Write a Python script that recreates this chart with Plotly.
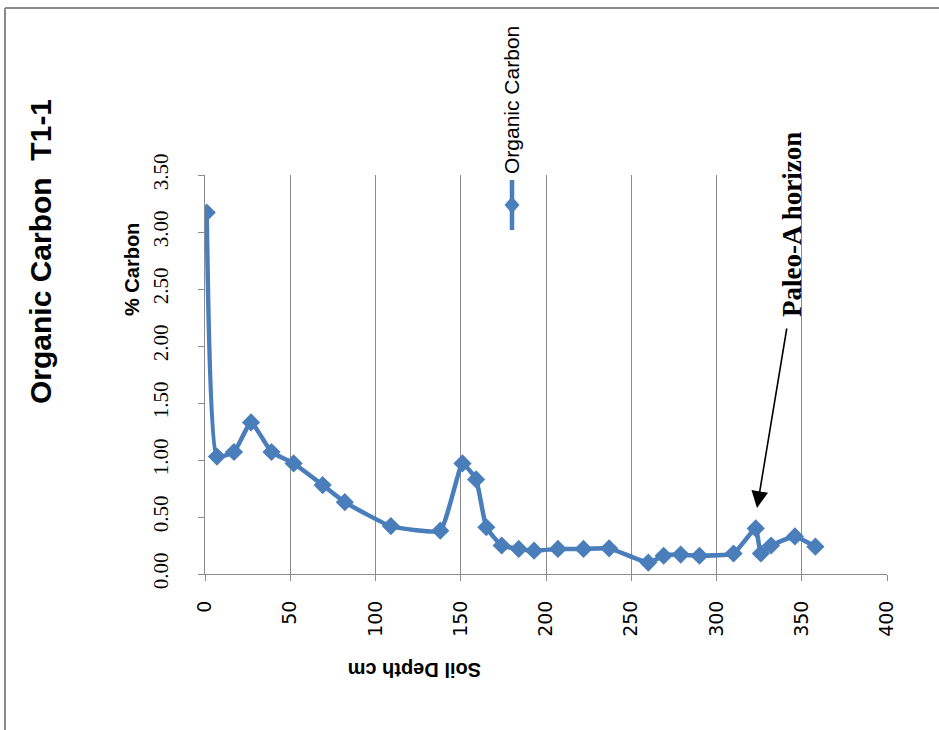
import plotly.graph_objects as go

# Data
depth_cm = [1, 7, 17, 27, 39, 52, 69, 82, 109, 138, 151, 159, 165, 174, 184, 193,
            207, 222, 237, 260, 269, 279, 290, 310, 323, 326, 332, 346, 358]
organic_carbon = [3.17, 1.03, 1.07, 1.33, 1.07, 0.97, 0.78, 0.63, 0.42, 0.38, 0.97,
                  0.83, 0.41, 0.25, 0.22, 0.205, 0.22, 0.22, 0.225, 0.10, 0.16, 0.17,
                  0.16, 0.18, 0.40, 0.18, 0.25, 0.33, 0.24]
x_ticks = [0, 50, 100, 150, 200, 250, 300, 350, 400]
y_ticks = [0.0, 0.5, 1.0, 1.5, 2.0, 2.5, 3.0, 3.5]
y_tick_text = ["%.2f" % v for v in y_ticks]

BLUE = "#4A7EBB"
GRID = "#8C8C8C"

W, H = 939, 730
L, R, T, B = 205, 52, 175, 156
PW, PH = W - L - R, H - T - B


def px(xp):
    return (xp - L) / PW


def py(yp):
    return (H - B - yp) / PH


fig = go.Figure()
fig.add_trace(go.Scatter(
    x=depth_cm, y=organic_carbon, mode="lines+markers", name="Organic Carbon",
    line=dict(color=BLUE, width=4.5, shape="spline", smoothing=0.4),
    marker=dict(symbol="diamond", size=14, color=BLUE),
    showlegend=False,
))

fig.update_layout(
    width=W, height=H,
    margin=dict(l=L, r=R, t=T, b=B),
    paper_bgcolor="white", plot_bgcolor="white",
    xaxis=dict(
        range=[0, 400], tickvals=x_ticks, ticktext=[str(v) for v in x_ticks],
        tickangle=-90, showgrid=True, gridcolor=GRID, gridwidth=1,
        showline=True, linecolor=GRID, linewidth=1,
        ticks="outside", ticklen=6, tickcolor=GRID,
        tickfont=dict(family="DejaVu Sans", size=19, color="black"),
        ticklabelstandoff=12, zeroline=False,
    ),
    yaxis=dict(
        range=[0, 3.5], tickvals=y_ticks, ticktext=y_tick_text,
        tickangle=-90, showgrid=False,
        showline=True, linecolor=GRID, linewidth=1,
        ticks="outside", ticklen=6, tickcolor=GRID,
        tickfont=dict(family="Liberation Serif", size=21, color="black"),
        ticklabelstandoff=22, zeroline=False,
    ),
)

ann = [
    dict(text="<b>Organic Carbon  T1-1</b>", x=px(40), y=py(252), textangle=-90,
         font=dict(family="Liberation Sans", size=30, color="black")),
    dict(text="<b>% Carbon</b>", x=px(132), y=py(270), textangle=-90,
         font=dict(family="Liberation Sans", size=20, color="black")),
    dict(text="<b>Soil Depth cm</b>", x=px(415), y=py(670), textangle=180,
         font=dict(family="Liberation Sans", size=20, color="black")),
    dict(text="Organic Carbon", x=px(512), y=py(100), textangle=-90,
         font=dict(family="Liberation Sans", size=21, color="black")),
    dict(text="<b>Paleo-A horizon</b>", x=px(792), y=py(225), textangle=-90,
         font=dict(family="Liberation Serif", size=27, color="black")),
]
for a in ann:
    a.update(xref="paper", yref="paper", showarrow=False,
             xanchor="center", yanchor="middle")
fig.update_layout(annotations=ann)

# arrow pointing to the Paleo-A horizon peak
fig.add_annotation(xref="paper", yref="paper", x=px(757), y=py(508),
                   ax=30, ay=-181, showarrow=True, arrowhead=2, arrowsize=2.1,
                   arrowwidth=1.6, arrowcolor="black", text="")

# legend symbol
lx = px(512)
fig.add_shape(type="line", xref="paper", yref="paper", x0=lx, x1=lx,
              y0=py(180), y1=py(230), line=dict(color=BLUE, width=4.5))
hx, hy, cy = 7.5 / PW, 8.5 / PH, py(205)
fig.add_shape(type="path", xref="paper", yref="paper",
              path=f"M {lx-hx} {cy} L {lx} {cy+hy} L {lx+hx} {cy} L {lx} {cy-hy} Z",
              fillcolor=BLUE, line=dict(color=BLUE, width=0))

# outer chart border (top and left visible)
fig.add_shape(type="line", xref="paper", yref="paper", x0=px(5), x1=px(945),
              y0=py(8), y1=py(8), line=dict(color="#8A8A8A", width=2))
fig.add_shape(type="line", xref="paper", yref="paper", x0=px(5), x1=px(5),
              y0=py(8), y1=py(740), line=dict(color="#8A8A8A", width=2))

fig.write_html("out.html")
